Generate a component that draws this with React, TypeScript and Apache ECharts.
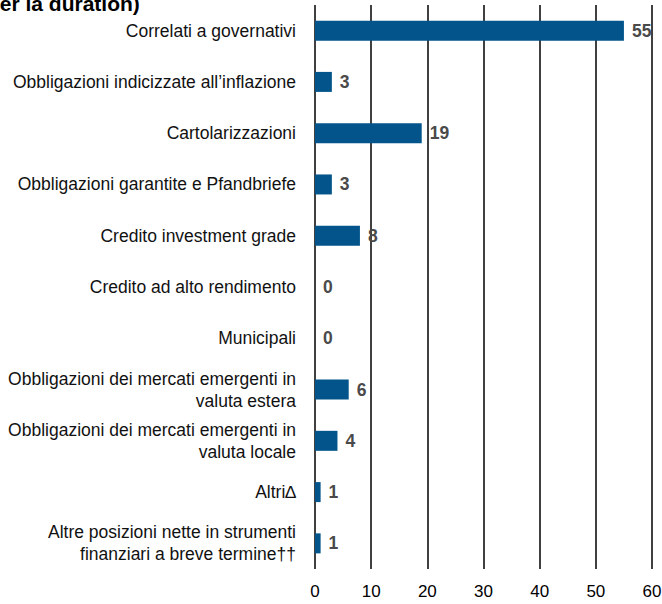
import React, { useEffect, useRef } from "react";
import * as echarts from "echarts";

const categories = [
  "Correlati a governativi",
  "Obbligazioni indicizzate all’inflazione",
  "Cartolarizzazioni",
  "Obbligazioni garantite e Pfandbriefe",
  "Credito investment grade",
  "Credito ad alto rendimento",
  "Municipali",
  "Obbligazioni dei mercati emergenti in\nvaluta estera",
  "Obbligazioni dei mercati emergenti in\nvaluta locale",
  "Altri∆",
  "Altre posizioni nette in strumenti\nfinanziari a breve termine††",
];
const values = [55, 3, 19, 3, 8, 0, 0, 6, 4, 1, 1];
const xMin = 0;
const xMax = 60;
const xInterval = 10;
const titleText = "(per la duration)";

const FONT = "'Liberation Sans', Arial, sans-serif";

export default function App() {
  const ref = useRef<HTMLDivElement>(null);
  useEffect(() => {
    document.body.style.margin = "0";
    const chart = echarts.init(ref.current!, null, { renderer: "svg" });
    chart.setOption({
      animation: false,
      backgroundColor: "#ffffff",
      textStyle: { fontFamily: FONT },
      grid: {
        left: 315,
        right: 10,
        top: 5,
        bottom: 35,
        containLabel: false,
        outerBoundsMode: "none",
      },
      graphic: [
        {
          type: "text",
          x: -20,
          y: 3,
          style: {
            text: titleText,
            font: `bold 21px ${FONT}`,
            fill: "#000000",
            verticalAlign: "middle",
            align: "left",
          },
        },
      ],
      xAxis: {
        type: "value",
        min: xMin,
        max: xMax,
        interval: xInterval,
        position: "bottom",
        axisLine: { show: false },
        axisTick: { show: false },
        axisLabel: { color: "#000000", fontSize: 17, fontFamily: FONT, margin: 14 },
        splitLine: { show: true, lineStyle: { color: "#000000", width: 1.5 } },
      },
      yAxis: {
        type: "category",
        data: categories,
        inverse: true,
        axisLine: { show: false },
        axisTick: { show: false },
        axisLabel: {
          color: "#111111",
          fontSize: 17.5,
          fontFamily: FONT,
          margin: 19,
          lineHeight: 22,
          align: "right",
        },
        splitLine: { show: false },
      },
      series: [
        {
          type: "bar",
          data: values,
          barWidth: 20,
          itemStyle: { color: "#02548A" },
          label: {
            show: true,
            position: "right",
            distance: 8,
            color: "#4a4a4a",
            fontWeight: "bold",
            fontSize: 17.5,
            fontFamily: FONT,
          },
        },
      ],
    });
    return () => chart.dispose();
  }, []);
  return <div ref={ref} style={{ width: 662, height: 604 }} />;
}
